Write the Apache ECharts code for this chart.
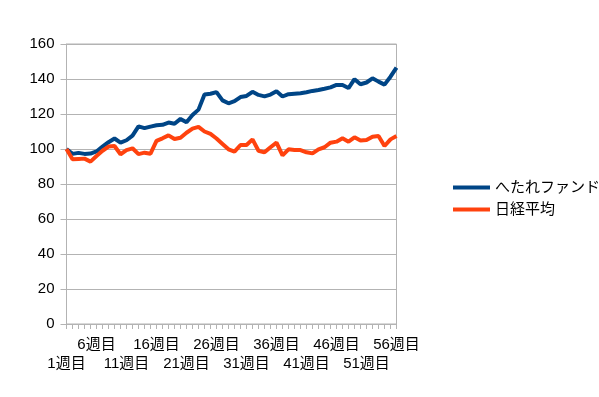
<!DOCTYPE html>
<html>
<head>
<meta charset="utf-8">
<script src="https://cdn.jsdelivr.net/npm/echarts@6/dist/echarts.min.js"></script>
<style>
  html, body { margin: 0; padding: 0; background: #fff; }
  #chart { width: 599px; height: 397px; }
</style>
</head>
<body>
<div id="chart"></div>
<script>
const weeks = []
for (let i = 1; i <= 56; i++) weeks.push(i + '週目')

const fundValues = [100, 97.2, 97.8, 97.2, 97.4, 98.6, 101.4, 103.9, 106, 103.6,
  105, 107.6, 112.9, 111.9, 112.8, 113.6, 113.8, 115.1, 114.4, 117.2,
  115.3, 119.4, 122.5, 131.1, 131.6, 132.5, 127.8, 126.1, 127.3, 129.7,
  130.3, 132.7, 130.9, 130.1, 131.1, 133, 130, 131.3, 131.6, 131.9,
  132.4, 133.2, 133.7, 134.4, 135.2, 136.6, 136.6, 134.8, 139.9, 137,
  138, 140.4, 138.5, 136.8, 141.3, 146.5]

const nikkeiValues = [100, 94.1, 94.3, 94.5, 92.8, 96, 99, 101.4, 101.7, 97,
  99.4, 100.4, 97.1, 97.9, 97.3, 104.6, 106.1, 107.8, 105.7, 106.4,
  109.3, 111.6, 112.6, 110, 108.6, 106, 102.9, 99.8, 98.5, 102.3,
  102.3, 105.5, 99, 98.1, 101, 103.6, 96.3, 99.8, 99.4, 99.4,
  98.1, 97.5, 99.8, 101, 103.6, 104.2, 106.1, 104.2, 106.7, 104.8,
  105.1, 107, 107.4, 101.7, 105.5, 107.4]

const seriesNames = ['へたれファンド', '日経平均']
const font = "'Liberation Sans', 'Noto Sans CJK JP', sans-serif"

const labelStyle = { fontSize: 15, color: '#000', fontFamily: font }

const chart = echarts.init(document.getElementById('chart'))
chart.setOption({
  animation: false,
  color: ['#004586', '#ff420e'],
  textStyle: { fontFamily: font },
  grid: {
    left: 66.5, right: 202.5, top: 44, bottom: 73,
    show: true, borderColor: '#b3b3b3', borderWidth: 1
  },
  legend: {
    orient: 'vertical',
    left: 453,
    top: 180,
    padding: 0,
    icon: 'rect',
    itemWidth: 37,
    itemHeight: 4,
    itemGap: 7,
    textStyle: labelStyle,
    data: seriesNames
  },
  xAxis: [
    {
      // upper row: 6, 16, 26 ... plus the axis line and ticks
      type: 'category',
      boundaryGap: false,
      data: weeks,
      axisLine: { lineStyle: { color: '#b3b3b3' } },
      axisTick: { show: true, interval: 0, length: 5, lineStyle: { color: '#b3b3b3' } },
      axisLabel: {
        ...labelStyle,
        interval: (idx) => idx % 10 === 5,
        margin: 13
      },
      splitLine: { show: false }
    },
    {
      // lower row: 1, 11, 21 ...
      type: 'category',
      position: 'bottom',
      boundaryGap: false,
      data: weeks,
      axisLine: { show: false },
      axisTick: { show: false },
      axisLabel: {
        ...labelStyle,
        interval: (idx) => idx % 10 === 0,
        margin: 32
      },
      splitLine: { show: false }
    }
  ],
  yAxis: {
    type: 'value',
    min: 0,
    max: 160,
    interval: 20,
    axisLine: { show: true, lineStyle: { color: '#b3b3b3' } },
    axisTick: { show: true, length: 6, lineStyle: { color: '#b3b3b3' } },
    axisLabel: { ...labelStyle, margin: 12 },
    splitLine: { lineStyle: { color: '#b3b3b3' } }
  },
  series: [
    {
      name: seriesNames[0],
      type: 'line',
      data: fundValues,
      symbol: 'none',
      lineStyle: { width: 4 }
    },
    {
      name: seriesNames[1],
      type: 'line',
      data: nikkeiValues,
      symbol: 'none',
      lineStyle: { width: 4 }
    }
  ]
})
</script>
</body>
</html>
